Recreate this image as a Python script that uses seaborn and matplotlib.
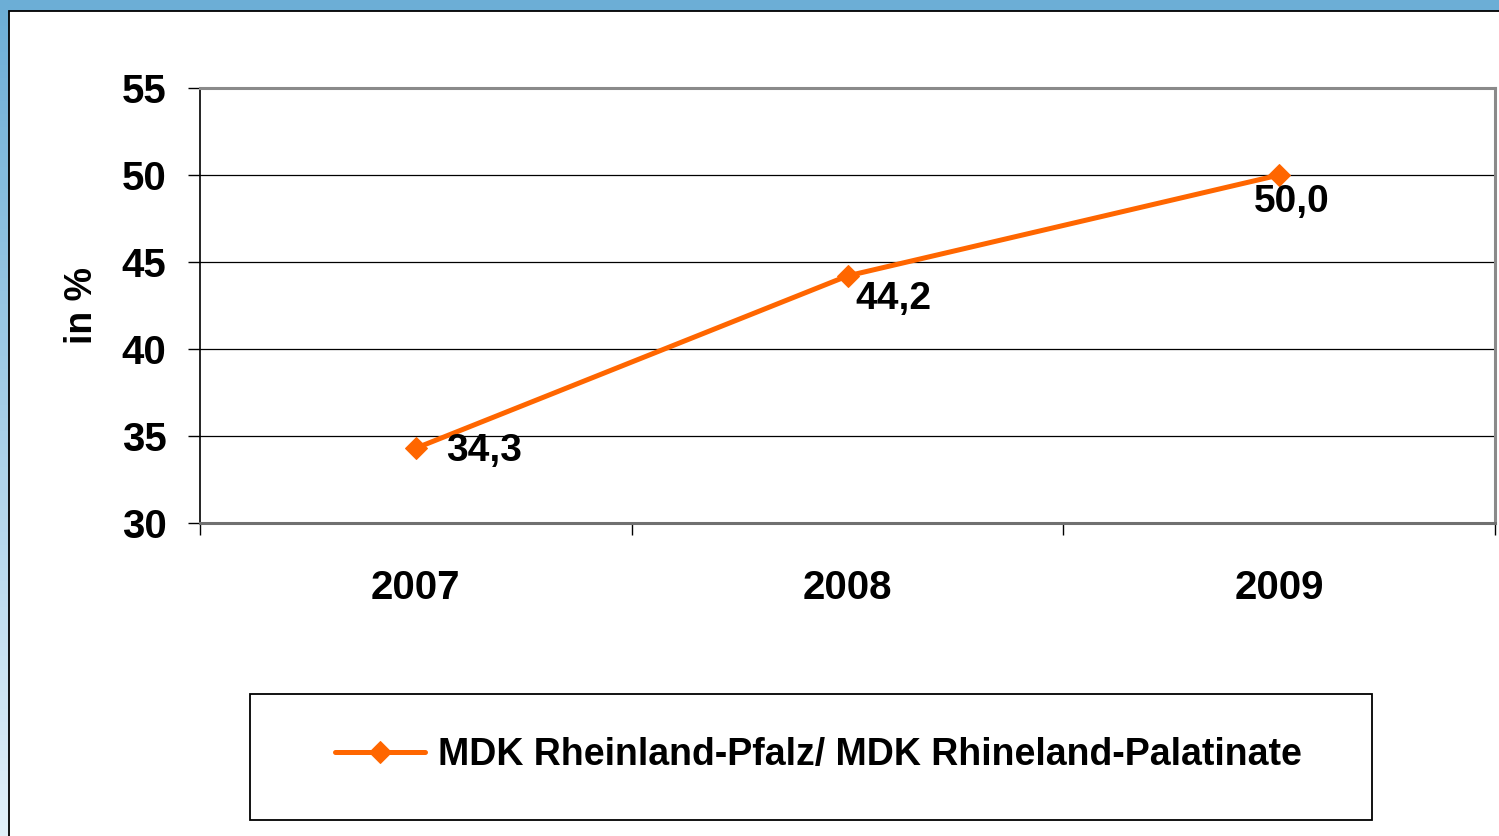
import numpy as np
import pandas as pd
import matplotlib
matplotlib.use("Agg")
import matplotlib.pyplot as plt
import seaborn as sns
from matplotlib.patches import Rectangle
from matplotlib.ticker import FixedLocator

years = ["2007", "2008", "2009"]
values = [34.3, 44.2, 50.0]
value_labels = ["34,3", "44,2", "50,0"]
y_ticks = [30, 35, 40, 45, 50, 55]
series_name = "MDK Rheinland-Pfalz/ MDK Rhineland-Palatinate"
y_title = "in %"

sns.set_theme(style="white")
plt.rcParams["font.family"] = ["Liberation Sans", "DejaVu Sans"]
plt.rcParams["font.weight"] = "bold"
plt.rcParams["text.color"] = "black"
plt.rcParams["axes.labelcolor"] = "black"
plt.rcParams["xtick.color"] = "black"
plt.rcParams["ytick.color"] = "black"

W, H = 1499, 836
fig = plt.figure(figsize=(W / 100, H / 100), dpi=100)
fig.patch.set_facecolor("white")

# gradient frame background
bg = fig.add_axes([0, 0, 1, 1], zorder=-10)
top_c = np.array([108, 174, 214]) / 255
bot_c = np.array([226, 240, 249]) / 255
t = np.linspace(0, 1, 256)[:, None]
grad = (top_c[None, :] * (1 - t) + bot_c[None, :] * t)[:, None, :]
bg.imshow(grad, aspect="auto", extent=[0, 1, 0, 1], origin="upper")
bg.set_xlim(0, 1)
bg.set_ylim(0, 1)
bg.axis("off")
bg.add_patch(Rectangle((9 / W, -0.01), 1.0, (H - 11) / H + 0.01,
                       facecolor="white", edgecolor="black", linewidth=1.3,
                       transform=bg.transAxes))

ax = fig.add_axes([200 / W, (H - 523) / H, (1495 - 200) / W, (523 - 88) / H])
ax.set_facecolor("white")

df = pd.DataFrame({"year": years, "value": values, "series": series_name})
sns.lineplot(data=df, x="year", y="value", hue="series", palette=["#FF6600"],
             marker="D", markersize=11, markeredgecolor="#FF6600",
             linewidth=3.6, ax=ax, legend=True, sort=False)

ax.set_xlim(-0.5, 2.5)
ax.set_ylim(30, 55)
ax.set_yticks(y_ticks)
ax.set_yticklabels([str(v) for v in y_ticks])
ax.set_xticks(range(len(years)))
ax.set_xticklabels(years)
ax.xaxis.set_minor_locator(FixedLocator([-0.5, 0.5, 1.5, 2.5]))

ax.yaxis.grid(True, color="black", linewidth=0.9)
ax.xaxis.grid(False)
ax.set_axisbelow(True)

for s in ["top", "right", "bottom"]:
    ax.spines[s].set_color("#8a8a8a")
    ax.spines[s].set_linewidth(2.2)
ax.spines["left"].set_color("black")
ax.spines["left"].set_linewidth(1.2)
ax.spines["bottom"].set_color("#707070")

ax.tick_params(axis="y", which="major", direction="out", length=8.6, width=1,
               color="black", left=True, pad=15.5, labelsize=29,
               labelcolor="black")
ax.tick_params(axis="x", which="major", length=0, pad=33, labelsize=29,
               labelcolor="black")
ax.tick_params(axis="x", which="minor", direction="out", length=8.6, width=1,
               color="black", bottom=True)
for lab in ax.get_xticklabels() + ax.get_yticklabels():
    lab.set_fontweight("bold")

ax.set_xlabel("")
ax.set_ylabel(y_title, fontsize=27, fontweight="bold", color="black")
ax.yaxis.set_label_coords(-0.077, 0.5)

offsets = [(21.6, -2.3), (5.8, -16.6), (-18, -19.5)]
for i, (v, lab) in enumerate(zip(values, value_labels)):
    ax.annotate(lab, (i, v), xytext=offsets[i], textcoords="offset points",
                ha="left", va="center", fontsize=28, fontweight="bold",
                color="black")

leg = ax.legend(loc="center", bbox_to_anchor=(818 / W, (H - 755) / H),
                bbox_transform=fig.transFigure, frameon=False,
                handlelength=2.4, handletextpad=0.35,
                prop={"weight": "bold", "size": 27})
for txt in leg.get_texts():
    txt.set_color("black")
fig.patches.append(Rectangle((250 / W, (H - 820) / H), (1372 - 250) / W,
                             (820 - 694) / H, facecolor="none",
                             edgecolor="black", linewidth=1.3,
                             transform=fig.transFigure, figure=fig, zorder=5))

fig.savefig("out.png", dpi=100)
